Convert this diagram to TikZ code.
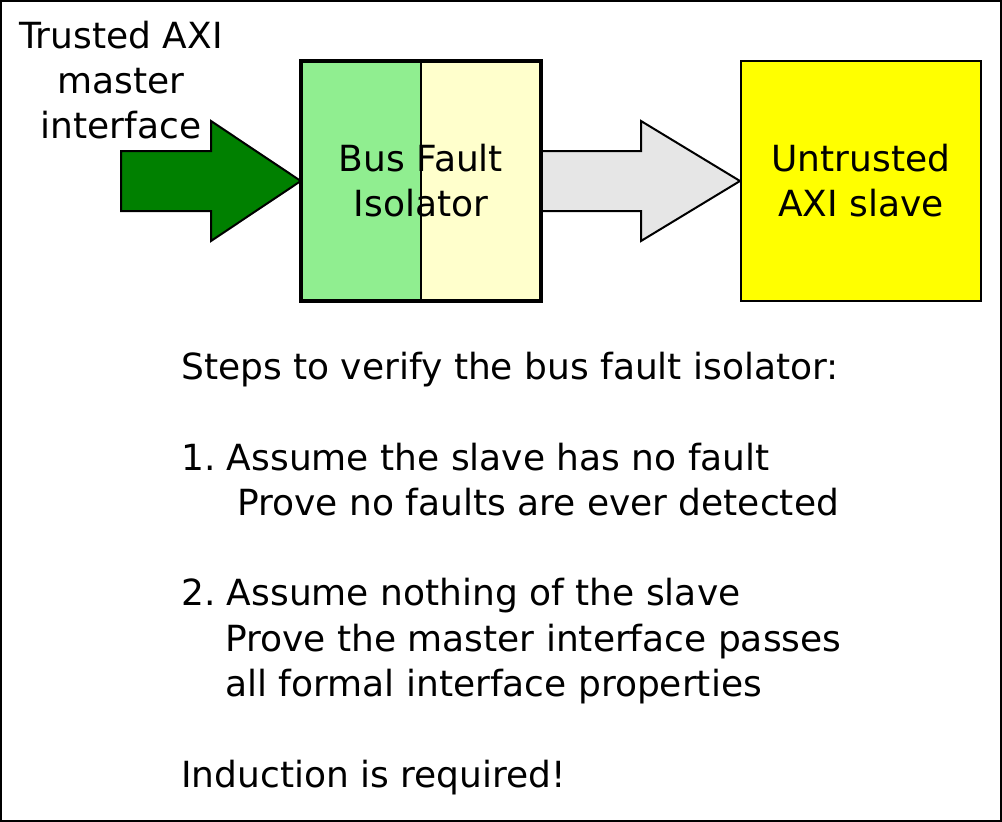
\documentclass[tikz,border=0pt]{standalone}
\usepackage{fontspec}
\setmainfont{DejaVu Sans}
\usetikzlibrary{positioning}
\definecolor{masterg}{HTML}{008000}
\definecolor{isog}{HTML}{90EE90}
\definecolor{isoy}{HTML}{FFFFCC}
\definecolor{arrowgr}{HTML}{E6E6E6}
\definecolor{slavey}{HTML}{FFFF00}
\frenchspacing

\begin{document}
\begin{tikzpicture}[x=1pt, y=-1pt, line join=miter,
  txt/.style={font=\fontsize{36}{45}\selectfont, inner sep=0pt, align=center},
  steptxt/.style={font=\fontsize{36}{45}\selectfont, inner sep=0pt, anchor=base west},
  box/.style={minimum width=240pt, minimum height=240pt, inner sep=0pt},
  bigarrow/.style={draw, line width=2pt}]
\useasboundingbox (0,0) rectangle (1002,822);
\draw[line width=2pt] (1,1) rectangle (1001,821);

% boxes
\node[box] (iso) at (421,181) {};
\node[box, draw, line width=2pt, fill=slavey] (slave) at (861,181) {};

% arrows
\draw[bigarrow, fill=masterg] (121,151) -- (211,151) -- (211,121) -- (iso.west)
  -- (211,241) -- (211,211) -- (121,211) -- cycle;
\draw[bigarrow, fill=arrowgr] (iso.east |- 0,151) -- (641,151) -- (641,121) -- (slave.west)
  -- (641,241) -- (641,211) -- (iso.east |- 0,211) -- cycle;

% isolator halves
\fill[isog] (iso.north west) rectangle (iso.south);
\fill[isoy] (iso.north) rectangle (iso.south east);
\draw[line width=2pt] (iso.north) -- (iso.south);
\draw[line width=3.5pt] (iso.north west) rectangle (iso.south east);

% labels
\node[txt] (isotxt) at (iso) {Bus Fault\\Isolator};
\node[txt] (slavetxt) at (slave) {Untrusted\\AXI slave};
\node[txt] (master) at (121,80) {Trusted AXI\\master\\interface};

% steps
\node[steptxt] (s0) at (181,379) {Steps to verify the bus fault isolator:};
\node[steptxt] (s1) at (181,470) {1. Assume the slave has no fault};
\node[steptxt] (s1b) at (237,515) {Prove no faults are ever detected};
\node[steptxt] (s2) at (181,605) {2. Assume nothing of the slave};
\node[steptxt] (s2b) at (225,651) {Prove the master interface passes};
\node[steptxt] (s2c) at (225,696) {all formal interface properties};
\node[steptxt] (s3) at (181,787) {Induction is required!};
\end{tikzpicture}
\end{document}
